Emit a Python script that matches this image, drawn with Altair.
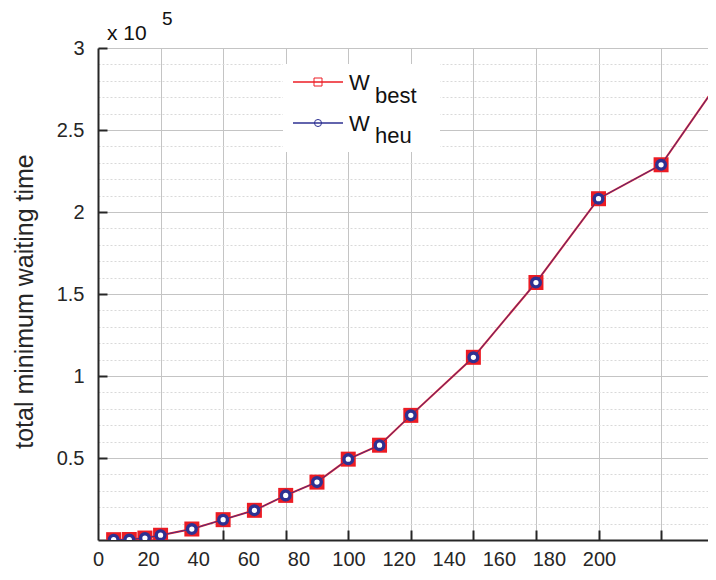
import altair as alt
import pandas as pd

# ---- data ----
x_vals = [5, 10, 15, 20, 30, 40, 50, 60, 70, 80, 90, 100, 120, 140, 160, 180, 200]
w_best = [200, 300, 1200, 2900, 6700, 12400, 18100, 27200, 35300, 49300, 57800,
          76000, 111400, 157000, 208100, 228800, 283600]
w_heu = [200, 300, 1200, 2900, 6700, 12400, 18100, 27200, 35300, 49300, 57800,
         76000, 111400, 157000, 208100, 228800, 283600]

x_tick_values = [20, 40, 60, 80, 100, 120, 140, 160, 180]
x_tick_labels = [0, 20, 40, 60, 80, 100, 120, 140, 160, 180, 200]
y_tick_values = [50000, 100000, 150000, 200000, 250000, 300000]
y_minor_values = [v for v in range(10000, 300000, 10000) if v % 50000 != 0]

legend_names = ["best", "heu"]
y_title = "total minimum waiting time"

df = pd.DataFrame({"x": x_vals, "best": w_best, "heu": w_heu})
one = pd.DataFrame({"k": [0]})

# ---- style ----
FONT = "Liberation Sans"
AX = "#262626"
GRID = "#c4c4c4"
MINOR = "#d9d9d9"
RED = "#ec1c24"
BLUE = "#2e3192"
W, H = 610, 492

xs = alt.Scale(domain=[0, 195.0], nice=False, zero=False)
xl = alt.Scale(domain=[0, 243.5], nice=False, zero=False)
ys = alt.Scale(domain=[0, 300000], nice=False, zero=False)

base = alt.Chart(df)

# minor dotted y grid
minor = base.mark_point(opacity=0).encode(
    x=alt.X("x:Q", scale=xs, axis=None),
    y=alt.Y("best:Q", scale=ys, axis=alt.Axis(
        orient="right", values=y_minor_values, grid=True, gridColor=MINOR,
        gridDash=[2, 2], gridWidth=1, labels=False, ticks=False, tickSize=0,
        domain=False, title=None)),
)

# major grid, domains, y labels & title
major = base.mark_point(opacity=0).encode(
    x=alt.X("x:Q", scale=xs, axis=alt.Axis(
        orient="bottom", values=x_tick_values, grid=True, gridColor=GRID,
        gridWidth=1, labels=False, ticks=False, tickSize=0, domain=True,
        domainColor=AX, domainWidth=2, title=None)),
    y=alt.Y("best:Q", scale=ys, axis=alt.Axis(
        orient="left", values=y_tick_values, grid=True, gridColor=GRID,
        gridWidth=1, labels=True, labelExpr="format(datum.value / 100000, '~g')",
        labelFont=FONT, labelFontSize=20, labelColor=AX, labelPadding=14,
        ticks=False, tickSize=0, domain=True, domainColor=AX, domainWidth=2,
        title=y_title, titleFont=FONT, titleFontSize=25, titleFontWeight="normal",
        titleColor=AX, titleX=-74, titleY=253, titleAngle=270,
        titleAlign="center", titleBaseline="middle")),
)

# inward tick marks
ticks = base.mark_point(opacity=0).encode(
    x=alt.X("x:Q", scale=xs, axis=alt.Axis(
        orient="top", offset=-H, values=x_tick_values, grid=False, labels=False,
        ticks=True, tickSize=10, tickWidth=2, tickColor=AX, domain=False,
        title=None)),
    y=alt.Y("best:Q", scale=ys, axis=alt.Axis(
        orient="right", offset=-W, values=y_tick_values, grid=False,
        labels=False, ticks=True, tickSize=9, tickWidth=2, tickColor=AX,
        domain=False, title=None)),
)

# x tick labels (placed as in the reference)
xlabels = base.mark_point(opacity=0).encode(
    x=alt.X("x:Q", scale=xl, axis=alt.Axis(
        orient="bottom", values=x_tick_labels, grid=False, labels=True,
        labelFont=FONT, labelFontSize=20, labelColor=AX, labelPadding=9,
        labelFlush=False, labelOverlap=False, ticks=False, tickSize=0,
        domain=False, title=None)),
    y=alt.Y("best:Q", scale=ys, axis=None),
)

enc_best = dict(x=alt.X("x:Q", scale=xs, axis=None),
                y=alt.Y("best:Q", scale=ys, axis=None))
enc_heu = dict(x=alt.X("x:Q", scale=xs, axis=None),
               y=alt.Y("heu:Q", scale=ys, axis=None))

red_line = base.mark_line(color=RED, strokeWidth=2, clip=True).encode(**enc_best)
red_sq = base.mark_square(color=RED, size=225, opacity=1, clip=True).encode(**enc_best)
blue_line = base.mark_line(color=BLUE, strokeWidth=1, opacity=0.85, clip=True).encode(**enc_heu)
blue_c = base.mark_circle(fill="white", stroke=BLUE, strokeWidth=3.4, size=75,
                          opacity=1, clip=True).encode(**enc_heu)

# legend (drawn by hand, as in the reference)
dec = alt.Chart(one)
leg_box = dec.mark_rect(fill="white").encode(
    x=alt.value(185), x2=alt.value(342), y=alt.value(16), y2=alt.value(104))
leg_red = dec.mark_rule(color=RED, strokeWidth=1.5).encode(
    x=alt.value(195), x2=alt.value(245), y=alt.value(34))
leg_red_m = dec.mark_point(shape="square", stroke=RED, filled=False, size=64,
                           strokeWidth=1, opacity=1).encode(x=alt.value(220), y=alt.value(34))
leg_blue = dec.mark_rule(color=BLUE, strokeWidth=1.5).encode(
    x=alt.value(195), x2=alt.value(245), y=alt.value(75))
leg_blue_m = dec.mark_point(shape="circle", stroke=BLUE, filled=False, size=50,
                            strokeWidth=1, opacity=1).encode(x=alt.value(220), y=alt.value(75))


def txt(t, x, y, size):
    return dec.mark_text(text=t, align="left", baseline="alphabetic", font=FONT,
                         fontSize=size, color="#111111").encode(
        x=alt.value(x), y=alt.value(y))


texts = [
    txt("W", 251, 42, 22), txt(legend_names[0], 277, 55, 22),
    txt("W", 251, 83, 22), txt(legend_names[1], 277, 95, 22),
    txt("x 10", 9, -8, 21), txt("5", 64, -23, 19),
]

chart = alt.layer(
    minor, major, ticks, xlabels,
    red_line, red_sq, blue_line, blue_c,
    leg_box, leg_red, leg_red_m, leg_blue, leg_blue_m, *texts,
).resolve_scale(x="independent", y="independent").properties(
    width=W, height=H,
    autosize=alt.AutoSizeParams(type="none"),
    padding={"left": 90, "top": 40, "right": 0, "bottom": 28},
).configure_view(stroke=None)

chart.save("out.html", embed_options={"renderer": "svg", "actions": False})
